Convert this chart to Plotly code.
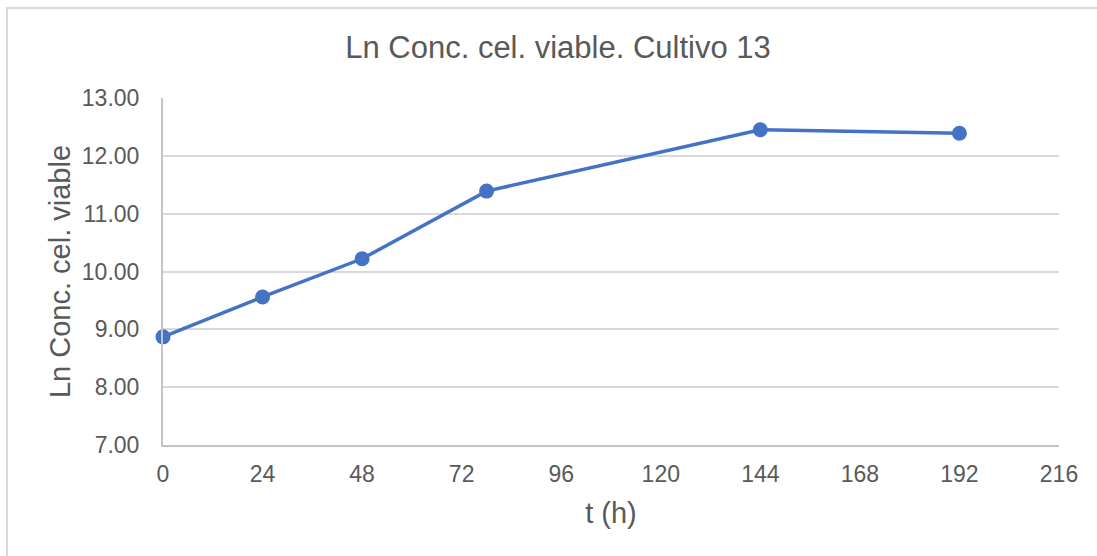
import plotly.graph_objects as go

# Sampling times (h) and natural log of viable cell concentration
t_hours = [0, 24, 48, 78, 144, 192]
ln_viable = [8.87, 9.56, 10.22, 11.39, 12.45, 12.39]

x_ticks = [0, 24, 48, 72, 96, 120, 144, 168, 192, 216]
y_ticks = [7, 8, 9, 10, 11, 12, 13]

BLUE = "#4472C4"
TEXT = "#595959"
GRID = "#D9D9D9"
AXIS = "#C4C4C4"
FONT = "Liberation Sans, Arial, sans-serif"

W, H = 1097, 556
L, R, T, B = 163, 38, 98, 111

fig = go.Figure(
    go.Scatter(
        x=t_hours,
        y=ln_viable,
        mode="lines+markers",
        line=dict(color=BLUE, width=3.5),
        marker=dict(color=BLUE, size=15),
        cliponaxis=False,
        hoverinfo="x+y",
    )
)

fig.update_layout(
    width=W,
    height=H,
    margin=dict(l=L, r=R, t=T, b=B, pad=0),
    paper_bgcolor="white",
    plot_bgcolor="white",
    showlegend=False,
    font=dict(family=FONT, color=TEXT, size=23),
    title=dict(
        text="Ln Conc. cel. viable. Cultivo 13",
        x=558 / W,
        xanchor="center",
        y=1 - 47 / H,
        yanchor="middle",
        font=dict(size=31, color=TEXT, family=FONT),
    ),
    xaxis=dict(
        range=[0, 216],
        tickmode="array",
        tickvals=x_ticks,
        ticktext=[str(v) for v in x_ticks],
        showgrid=False,
        zeroline=False,
        showline=True,
        linecolor=AXIS,
        linewidth=2,
        ticks="",
        ticklabelstandoff=7,
        tickfont=dict(size=23, color=TEXT),
        title=dict(text="t (h)", font=dict(size=29, color=TEXT), standoff=17),
    ),
    yaxis=dict(
        range=[7, 13],
        tickmode="array",
        tickvals=y_ticks,
        ticktext=[f"{v:.2f}" for v in y_ticks],
        showgrid=True,
        gridcolor=GRID,
        gridwidth=1.5,
        zeroline=False,
        showline=True,
        linecolor=AXIS,
        linewidth=2,
        ticks="",
        ticklabelstandoff=17,
        tickfont=dict(size=23, color=TEXT),
        title=dict(text="Ln Conc. cel. viable", font=dict(size=29, color=TEXT), standoff=3),
    ),
    shapes=[
        # chart frame (top and left edges)
        dict(
            type="rect",
            xref="paper",
            yref="paper",
            x0=(7 - L) / (W - L - R),
            x1=(W + 20 - L) / (W - L - R),
            y0=-(B + 20) / (H - T - B),
            y1=1 + (T - 8) / (H - T - B),
            line=dict(color="#D9D9D9", width=2),
            fillcolor="rgba(0,0,0,0)",
            layer="below",
        )
    ],
)

fig.write_html("out.html")
